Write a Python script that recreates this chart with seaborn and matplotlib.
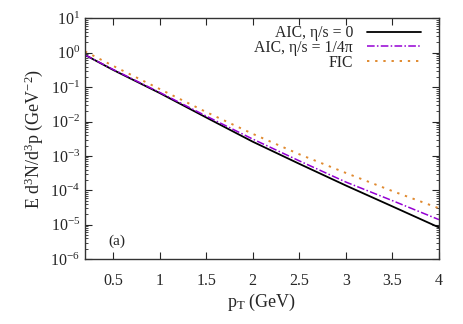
import matplotlib
matplotlib.use("Agg")
import matplotlib.pyplot as plt
import seaborn as sns
import pandas as pd
from matplotlib.ticker import LogLocator, FixedLocator

# Data
pt = [0.2, 0.5, 1.0, 1.5, 2.0, 2.5, 3.0, 3.5, 4.0]
aic_ideal = [0.87, 0.32, 0.068, 0.0132, 2.6e-3, 5.9e-4, 1.38e-4, 3.4e-5, 8.3e-6]
aic_visc = [0.87, 0.33, 0.071, 0.0145, 3.1e-3, 7.2e-4, 1.74e-4, 5.0e-5, 1.4e-5]
fic = [1.1, 0.42, 0.089, 0.019, 4.4e-3, 1.12e-3, 3.2e-4, 9.5e-5, 3.0e-5]
labels = ["AIC, η/s = 0", "AIC, η/s = 1/4π", "FIC"]

sns.set_style("ticks")
plt.rcParams['font.family'] = ['Liberation Serif', 'DejaVu Serif']
plt.rcParams['mathtext.fontset'] = 'custom'
plt.rcParams['mathtext.rm'] = 'Liberation Serif'
plt.rcParams['mathtext.it'] = 'Liberation Serif:italic'
plt.rcParams['mathtext.bf'] = 'Liberation Serif:bold'

fig = plt.figure(figsize=(4.63, 3.24), dpi=100)
ax = fig.add_axes([0.1836, 0.2006, 0.7644, 0.7424])

styles = [
    dict(color="black", linestyle="-", linewidth=1.3),
    dict(color="#9400d3", linestyle=(0, (5, 1.5, 1, 1.5)), linewidth=1.1),
    dict(color="#e08a30", linestyle=(0, (1.2, 3)), linewidth=1.4),
]
for ys, lab, st in zip([aic_ideal, aic_visc, fic], labels, styles):
    df = pd.DataFrame({"pT": pt, "y": ys})
    sns.lineplot(data=df, x="pT", y="y", ax=ax, label=lab, **st)

ax.set_yscale("log")
ax.set_xlim(0.2, 4)
ax.set_ylim(1e-6, 1e1)
ax.xaxis.set_major_locator(FixedLocator([0.5, 1, 1.5, 2, 2.5, 3, 3.5, 4]))
ax.set_xticklabels(["0.5", "1", "1.5", "2", "2.5", "3", "3.5", "4"])
ax.yaxis.set_major_locator(LogLocator(base=10, numticks=10))
ax.yaxis.set_minor_locator(LogLocator(base=10, subs=range(2, 10), numticks=10))

ax.tick_params(which="both", direction="in", top=True, right=True, labelsize=11.5)
ax.tick_params(which="major", length=5, width=0.8)
ax.tick_params(which="minor", length=2.5, width=0.6)
ax.tick_params(axis="x", pad=10)
for sp in ax.spines.values():
    sp.set_linewidth(1.0)
    sp.set_color("#333333")

ax.set_xlabel("p$_\\mathrm{T}$ (GeV)", fontsize=13, labelpad=2)
ax.set_ylabel("E d$^3$N/d$^3$p (GeV$^{-2}$)", fontsize=13, labelpad=4)

ax.text(0.065, 0.06, "(a)", transform=ax.transAxes, fontsize=11)

ax.legend(loc="upper right", frameon=False, markerfirst=False, fontsize=11.3,
          handlelength=3.4, labelspacing=-0.08, handletextpad=0.9,
          borderpad=0.2, borderaxespad=0.0, bbox_to_anchor=(0.957, 0.985))

plt.savefig("out.png", dpi=100)
